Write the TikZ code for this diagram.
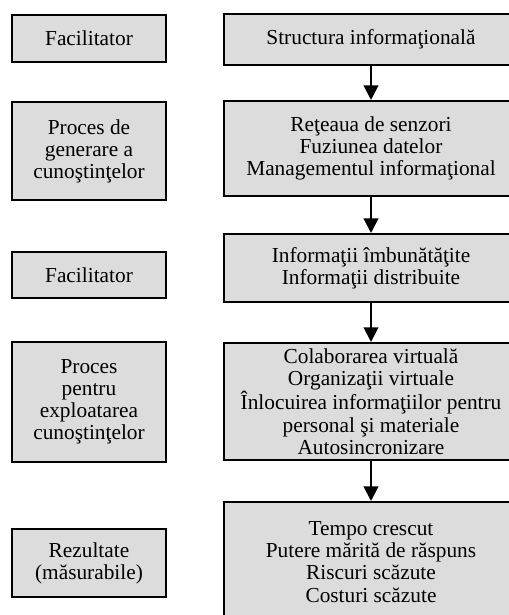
\documentclass[tikz,border=0pt]{standalone}
\usepackage{fontspec}
\setmainfont{Liberation Serif}
\usetikzlibrary{arrows.meta}
\definecolor{boxgray}{RGB}{220,220,220}

\begin{document}
\begin{tikzpicture}[
    x = 0.75pt,
    y = -0.75pt,
    >={Triangle[width=11pt,length=11pt]},
    side/.style = {draw, fill=boxgray, line width=1.5pt, align=center,
    minimum width=115.5pt, inner sep=0pt, font=\fontsize{16}{16.6}\selectfont},
    stage/.style = {draw, fill=boxgray, line width=1.5pt, align=center,
    minimum width=220.5pt, inner sep=0pt, font=\fontsize{16}{16.6}\selectfont},
]
\clip (0,0) rectangle (509,615);

\node[side, minimum height=35.25pt] (side_0) at (89,38.5){Facilitator};
\node[side, minimum height=73.5pt] (side_1) at (89,151){Proces de\\generare a\\cunoştinţelor};
\node[side, minimum height=34.5pt] (side_2) at (89,275){Facilitator};
\node[side, minimum height=90pt] (side_3) at (89,402){Proces\\pentru\\exploatarea\\cunoştinţelor};
\node[side, minimum height=51pt] (side_4) at (89,563){Rezultate\\(măsurabile)};

\node[stage, minimum height=38.25pt] (stage_0) at (371,39.5){Structura informaţională};
\node[stage, minimum height=71.25pt] (stage_1) at (371,148.5){Reţeaua de senzori\\Fuziunea datelor\\Managementul informaţional};
\node[stage, minimum height=51pt] (stage_2) at (371,268){Informaţii îmbunătăţite\\Informaţii distribuite};
\node[stage, minimum height=87.75pt] (stage_3) at (371,401.5){Colaborarea virtuală\\Organizaţii virtuale\\Înlocuirea informaţiilor pentru\\personal şi materiale\\Autosincronizare};
\node[stage, minimum height=90pt] (stage_4) at (371,562){Tempo crescut\\Putere mărită de răspuns\\Riscuri scăzute\\Costuri scăzute};

\draw [->, line width=1.5pt] (stage_0) -- (stage_1);
\draw [->, line width=1.5pt] (stage_1) -- (stage_2);
\draw [->, line width=1.5pt] (stage_2) -- (stage_3);
\draw [->, line width=1.5pt] (stage_3) -- (stage_4);
\end{tikzpicture}
\end{document}
